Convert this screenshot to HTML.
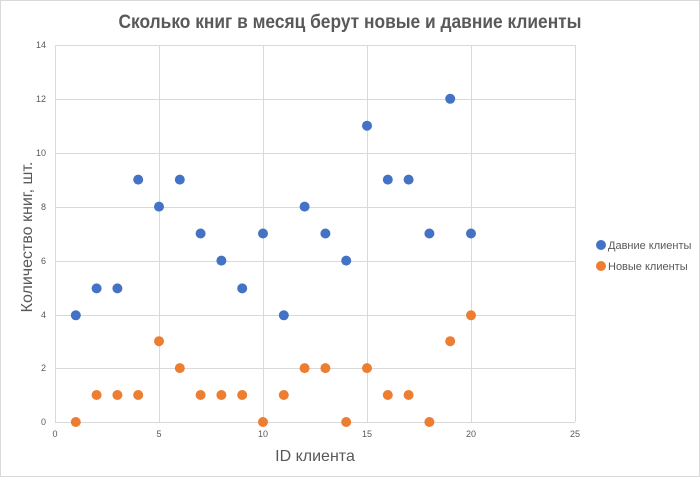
<!DOCTYPE html>
<html><head><meta charset="utf-8"><style>
html,body{margin:0;padding:0;background:#fff;}
svg{display:block;font-family:"Liberation Sans",sans-serif;}
</style></head><body>
<svg width="700" height="477" viewBox="0 0 700 477" xmlns="http://www.w3.org/2000/svg">
<rect x="0.5" y="0.5" width="699" height="476" fill="#fff" stroke="#d9d9d9"/>
<text x="350" y="28" text-anchor="middle" font-size="19" font-weight="bold" fill="#595959" textLength="463" lengthAdjust="spacingAndGlyphs">Сколько книг в месяц берут новые и давние клиенты</text>
<g stroke="#d9d9d9" stroke-width="1">
<line x1="55" y1="45.5" x2="575" y2="45.5"/>
<line x1="55" y1="99.5" x2="575" y2="99.5"/>
<line x1="55" y1="153.5" x2="575" y2="153.5"/>
<line x1="55" y1="207.5" x2="575" y2="207.5"/>
<line x1="55" y1="261.5" x2="575" y2="261.5"/>
<line x1="55" y1="315.5" x2="575" y2="315.5"/>
<line x1="55" y1="368.5" x2="575" y2="368.5"/>
<line x1="159.5" y1="45" x2="159.5" y2="422"/>
<line x1="263.5" y1="45" x2="263.5" y2="422"/>
<line x1="367.5" y1="45" x2="367.5" y2="422"/>
<line x1="471.5" y1="45" x2="471.5" y2="422"/>
<line x1="575.5" y1="45" x2="575.5" y2="422"/>
<line x1="55.5" y1="45" x2="55.5" y2="422"/>
<line x1="55" y1="422.5" x2="575" y2="422.5"/>
</g>
<g font-size="9" fill="#595959" text-anchor="end">
<text x="46" y="48">14</text><text x="46" y="102">12</text><text x="46" y="156">10</text>
<text x="46" y="210">8</text><text x="46" y="264">6</text><text x="46" y="318">4</text>
<text x="46" y="371">2</text><text x="46" y="425">0</text>
</g>
<g font-size="9" fill="#595959" text-anchor="middle">
<text x="55" y="437">0</text><text x="159" y="437">5</text><text x="263" y="437">10</text>
<text x="367" y="437">15</text><text x="471" y="437">20</text><text x="575" y="437">25</text>
</g>
<text x="315" y="461" text-anchor="middle" font-size="16" fill="#595959">ID клиента</text>
<text transform="translate(32,237) rotate(-90)" text-anchor="middle" font-size="16" fill="#595959">Количество книг, шт.</text>
<g fill="#4472C4">
<circle cx="75.8" cy="315.3" r="5"/><circle cx="96.6" cy="288.4" r="5"/><circle cx="117.4" cy="288.4" r="5"/>
<circle cx="138.2" cy="179.6" r="5"/><circle cx="159" cy="206.6" r="5"/><circle cx="179.8" cy="179.6" r="5"/>
<circle cx="200.6" cy="233.5" r="5"/><circle cx="221.4" cy="260.6" r="5"/><circle cx="242.2" cy="288.4" r="5"/>
<circle cx="263" cy="233.5" r="5"/><circle cx="283.8" cy="315.3" r="5"/><circle cx="304.6" cy="206.6" r="5"/>
<circle cx="325.4" cy="233.5" r="5"/><circle cx="346.2" cy="260.6" r="5"/><circle cx="367" cy="125.7" r="5"/>
<circle cx="387.8" cy="179.6" r="5"/><circle cx="408.6" cy="179.6" r="5"/><circle cx="429.4" cy="233.5" r="5"/>
<circle cx="450.2" cy="98.8" r="5"/><circle cx="471" cy="233.5" r="5"/>
</g>
<g fill="#ED7D31">
<circle cx="75.8" cy="422" r="5"/><circle cx="96.6" cy="395" r="5"/><circle cx="117.4" cy="395" r="5"/>
<circle cx="138.2" cy="395" r="5"/><circle cx="159" cy="341.2" r="5"/><circle cx="179.8" cy="368.1" r="5"/>
<circle cx="200.6" cy="395" r="5"/><circle cx="221.4" cy="395" r="5"/><circle cx="242.2" cy="395" r="5"/>
<circle cx="263" cy="422" r="5"/><circle cx="283.8" cy="395" r="5"/><circle cx="304.6" cy="368.1" r="5"/>
<circle cx="325.4" cy="368.1" r="5"/><circle cx="346.2" cy="422" r="5"/><circle cx="367" cy="368.1" r="5"/>
<circle cx="387.8" cy="395" r="5"/><circle cx="408.6" cy="395" r="5"/><circle cx="429.4" cy="422" r="5"/>
<circle cx="450.2" cy="341.2" r="5"/><circle cx="471" cy="315.3" r="5"/>
</g>
<circle cx="601" cy="245" r="5" fill="#4472C4"/>
<text x="608" y="249" font-size="11" fill="#595959">Давние клиенты</text>
<circle cx="601" cy="266" r="5" fill="#ED7D31"/>
<text x="608" y="270" font-size="11" fill="#595959">Новые клиенты</text>
</svg>
</body></html>
